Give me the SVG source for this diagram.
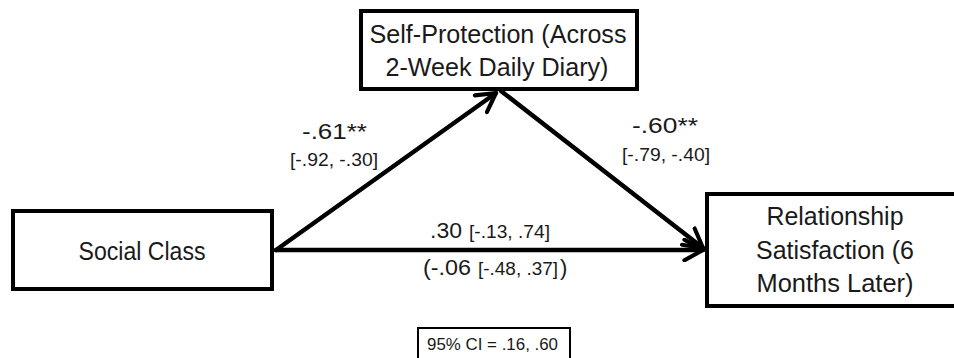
<svg xmlns="http://www.w3.org/2000/svg" width="954" height="358" viewBox="0 0 954 358">
<style>
.box{fill:#fff;stroke:#000;stroke-width:4}
.node{font-family:"Liberation Sans",Arial,sans-serif;font-size:25px;fill:#1a1a1a;text-anchor:middle}
.big{font-family:"Liberation Sans",Arial,sans-serif;font-size:22px;fill:#1a1a1a}
.small{font-family:"Liberation Sans",Arial,sans-serif;font-size:18px;fill:#1a1a1a}
.edge{fill:none;stroke:#000;stroke-width:4.5;stroke-linecap:round}
</style>
<defs>
<marker id="arr" viewBox="0 0 12 12" refX="10" refY="6" markerWidth="5.5" markerHeight="5.5" orient="auto" markerUnits="strokeWidth">
<path d="M1,1 L10,6 L1,11" fill="none" stroke="#000" stroke-width="2" stroke-linecap="round" stroke-linejoin="round"/>
</marker>
</defs>
<rect width="954" height="358" fill="#fff"/>
<g id="connectors">
<line class="edge" x1="276" y1="250" x2="496" y2="93" marker-end="url(#arr)"/>
<line class="edge" x1="501" y1="91" x2="703" y2="248" marker-end="url(#arr)"/>
<line class="edge" x1="276" y1="250" x2="703" y2="250" marker-end="url(#arr)"/>
</g>
<g id="node-self-protection">
<rect class="box" x="361" y="11" width="276" height="78"/>
<text class="node" x="498" y="43" textLength="257" lengthAdjust="spacingAndGlyphs">Self-Protection (Across</text>
<text class="node" x="497" y="76" textLength="223" lengthAdjust="spacingAndGlyphs">2-Week Daily Diary)</text>
</g>
<g id="node-social-class">
<rect class="box" x="13" y="211" width="259" height="78"/>
<text class="node" x="142" y="260" textLength="127" lengthAdjust="spacingAndGlyphs">Social Class</text>
</g>
<g id="node-relationship">
<rect class="box" x="707" y="194" width="290" height="112"/>
<text class="node" x="835" y="225" textLength="137" lengthAdjust="spacingAndGlyphs">Relationship</text>
<text class="node" x="835" y="259" textLength="158" lengthAdjust="spacingAndGlyphs">Satisfaction (6</text>
<text class="node" x="835" y="292" textLength="157" lengthAdjust="spacingAndGlyphs">Months Later)</text>
</g>
<g id="labels">
<text class="big" x="302" y="139" textLength="65" lengthAdjust="spacingAndGlyphs">-.61**</text>
<text class="small" x="290" y="166" textLength="88" lengthAdjust="spacingAndGlyphs">[-.92, -.30]</text>
<text class="big" x="632" y="133" textLength="66" lengthAdjust="spacingAndGlyphs">-.60**</text>
<text class="small" x="622" y="161" textLength="88" lengthAdjust="spacingAndGlyphs">[-.79, -.40]</text>
<text class="big" x="430" y="238" textLength="32" lengthAdjust="spacingAndGlyphs">.30</text>
<text class="small" x="469" y="238" textLength="81" lengthAdjust="spacingAndGlyphs">[-.13, .74]</text>
<text class="big" x="423" y="275" textLength="48" lengthAdjust="spacingAndGlyphs">(-.06</text>
<text class="small" x="478" y="275" textLength="80" lengthAdjust="spacingAndGlyphs">[-.48, .37]</text>
<text class="big" x="560" y="275">)</text>
</g>
<g id="node-ci">
<rect x="418" y="328" width="152" height="40" fill="#fff" stroke="#000" stroke-width="2"/>
<text class="small" x="427" y="350" style="font-size:16px" textLength="131" lengthAdjust="spacingAndGlyphs">95% CI = .16, .60</text>
</g>
</svg>
